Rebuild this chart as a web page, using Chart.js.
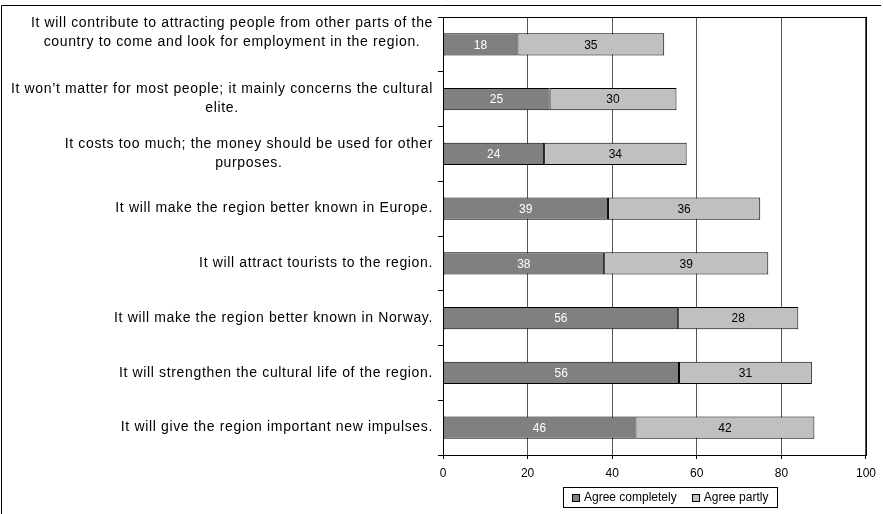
<!DOCTYPE html>
<html>
<head>
<meta charset="utf-8">
<script src="https://cdn.jsdelivr.net/npm/chart.js@4/dist/chart.umd.min.js"></script>
<style>
  html, body { margin: 0; padding: 0; background: #fff; }
  #wrap { width: 883px; height: 514px; }
</style>
</head>
<body>
<div id="wrap"><canvas id="surveyChart" width="883" height="514"></canvas></div>
<script>
// Statements (long ones are split on two lines like in the original)
const statements = [
  ["It will contribute to attracting people from other parts of the", "country to come and look for employment in the region."],
  ["It won\u2019t matter for most people; it mainly concerns the cultural", "elite."],
  ["It costs too much; the money should be used for other", "purposes."],
  ["It will make the region better known in Europe."],
  ["It will attract tourists to the region."],
  ["It will make the region better known in Norway."],
  ["It will strengthen the cultural life of the region."],
  ["It will give the region important new impulses."]
];

// Percentages
const agreeCompletely = [17.6, 25.2, 23.9, 39.0, 38.1, 55.6, 55.8, 45.5];
const agreePartly = [34.7, 30.0, 33.7, 36.0, 38.8, 28.4, 31.4, 42.3];

const seriesNames = ["Agree completely", "Agree partly"];
const xTickValues = [0, 20, 40, 60, 80, 100];

const FONT = "'Liberation Sans', Arial, sans-serif";

// outer frame + plot frame
const framePlugin = {
  id: 'frame',
  afterDraw(chart) {
    const ctx = chart.ctx;
    const a = chart.chartArea;
    ctx.save();
    ctx.strokeStyle = '#000';
    ctx.lineWidth = 1;
    ctx.beginPath();
    ctx.moveTo(1.5, 514);
    ctx.lineTo(1.5, 5.5);
    ctx.lineTo(881, 5.5);
    ctx.stroke();
    ctx.strokeRect(Math.round(a.left) + 0.5, Math.round(a.top) + 0.5,
      Math.round(a.right - a.left), Math.round(a.bottom - a.top));
    ctx.restore();
  }
};

// statement labels, right aligned block, lines centred inside the block
const statementLabels = {
  id: 'statementLabels',
  afterDraw(chart) {
    const ctx = chart.ctx;
    const yScale = chart.scales.y;
    const rightEdge = 433;
    const lineH = 19;
    ctx.save();
    ctx.font = '14px ' + FONT;
    ctx.letterSpacing = '0.65px';
    ctx.fillStyle = '#000';
    ctx.textAlign = 'center';
    ctx.textBaseline = 'middle';
    statements.forEach((lines, i) => {
      let y = yScale.getPixelForValue(i);
      // the top two-line label sits higher, as in the original
      if (i === 0) y -= 12;
      let maxW = 0;
      lines.forEach(l => { maxW = Math.max(maxW, ctx.measureText(l).width); });
      const cx = rightEdge - maxW / 2;
      const y0 = y - (lines.length - 1) * lineH / 2;
      lines.forEach((l, j) => ctx.fillText(l, cx, y0 + j * lineH));
    });
    ctx.restore();
  }
};

// value labels inside the bars
const barValues = {
  id: 'barValues',
  afterDatasetsDraw(chart) {
    const ctx = chart.ctx;
    ctx.save();
    ctx.font = '12px ' + FONT;
    ctx.textAlign = 'center';
    ctx.textBaseline = 'middle';
    chart.data.datasets.forEach((ds, di) => {
      const meta = chart.getDatasetMeta(di);
      ctx.fillStyle = di === 0 ? '#fff' : '#000';
      meta.data.forEach((bar, i) => {
        const cx = (bar.x + bar.base) / 2;
        ctx.fillText(String(Math.round(ds.data[i])), cx, bar.y + 1);
      });
    });
    ctx.restore();
  }
};

// boxed legend under the plot
const boxLegend = {
  id: 'boxLegend',
  afterDraw(chart) {
    const ctx = chart.ctx;
    ctx.save();
    ctx.font = '12px ' + FONT;
    ctx.textBaseline = 'middle';
    const sw = 8, gapA = 4, gapB = 15, pad = 9;
    let total = pad * 2;
    chart.data.datasets.forEach((ds, i) => {
      total += sw + gapA + ctx.measureText(ds.label).width;
      if (i > 0) total += gapB;
    });
    total = Math.round(total);
    const left = 563, top = 487, h = 20;
    ctx.fillStyle = '#fff';
    ctx.fillRect(left, top, total, h);
    ctx.strokeStyle = '#000';
    ctx.lineWidth = 1;
    ctx.strokeRect(left + 0.5, top + 0.5, total, h);
    let x = left + pad;
    const cy = top + h / 2 + 0.5;
    chart.data.datasets.forEach((ds, i) => {
      if (i > 0) x += gapB;
      ctx.fillStyle = ds.backgroundColor;
      ctx.fillRect(Math.round(x) + 0.5, Math.round(cy - 4) + 0.5, sw - 1, sw - 1);
      ctx.strokeRect(Math.round(x) + 0.5, Math.round(cy - 4) + 0.5, sw - 1, sw - 1);
      x += sw + gapA;
      ctx.fillStyle = '#000';
      ctx.fillText(ds.label, x, cy);
      x += ctx.measureText(ds.label).width;
    });
    ctx.restore();
  }
};

const ctx = document.getElementById('surveyChart').getContext('2d');
const surveyChart = new Chart(ctx, {
  type: 'bar',
  data: {
    labels: statements,
    datasets: [
      {
        label: seriesNames[0],
        data: agreeCompletely,
        backgroundColor: '#808080',
        borderColor: '#000',
        borderWidth: 1,
        borderSkipped: false
      },
      {
        label: seriesNames[1],
        data: agreePartly,
        backgroundColor: '#c0c0c0',
        borderColor: '#000',
        borderWidth: 1,
        borderSkipped: false
      }
    ]
  },
  options: {
    indexAxis: 'y',
    responsive: false,
    animation: false,
    layout: { padding: { top: 17, right: 16, bottom: 0, left: 0 } },
    categoryPercentage: 0.8,
    barPercentage: 0.51,
    scales: {
      x: {
        stacked: true,
        min: 0,
        max: 100,
        afterBuildTicks(scale) {
          scale.ticks = xTickValues.map(v => ({ value: v }));
        },
        afterFit(scale) { scale.height = 59; },
        grid: { color: '#555', tickColor: '#000', tickLength: 4, lineWidth: 1 },
        border: { color: '#000', width: 1 },
        ticks: {
          color: '#000',
          padding: 7,
          font: { family: FONT, size: 12 }
        }
      },
      y: {
        stacked: true,
        afterFit(scale) { scale.width = 443; },
        grid: { drawOnChartArea: false, tickLength: 5, tickColor: '#000', offset: true },
        border: { color: '#000', width: 1 },
        ticks: { display: false }
      }
    },
    plugins: {
      legend: { display: false },
      tooltip: { enabled: false }
    }
  },
  plugins: [framePlugin, statementLabels, barValues, boxLegend]
});
</script>
</body>
</html>
